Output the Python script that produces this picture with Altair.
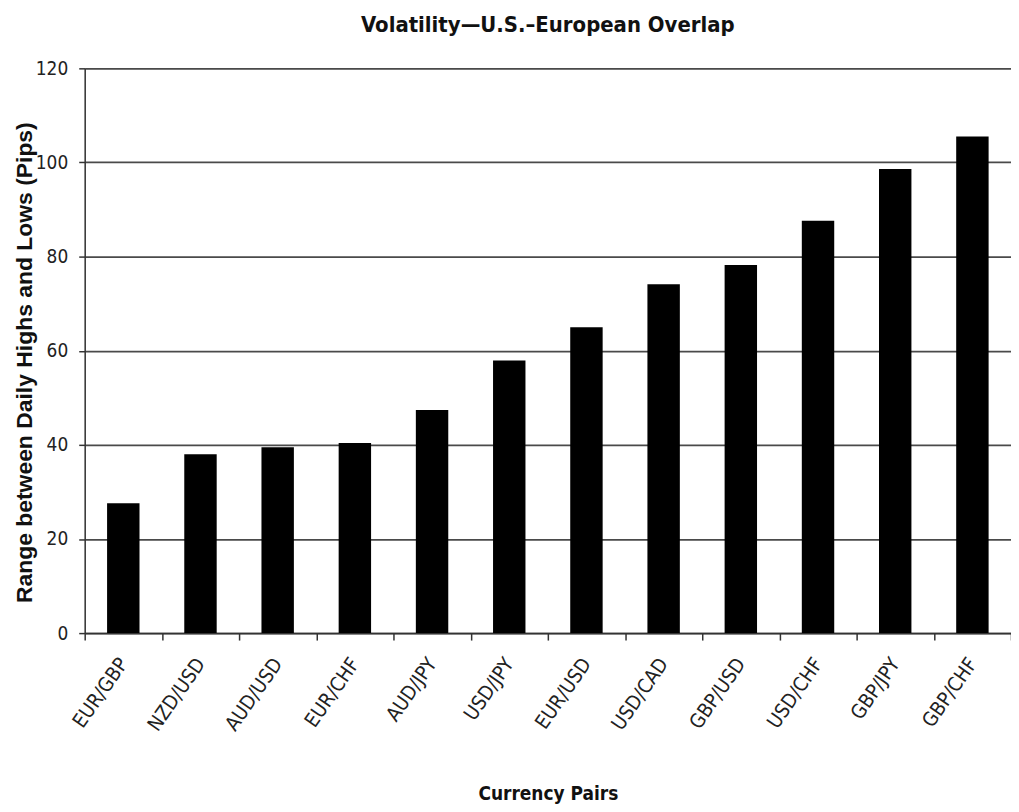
import altair as alt
import pandas as pd

pairs = ["EUR/GBP", "NZD/USD", "AUD/USD", "EUR/CHF", "AUD/JPY", "USD/JPY",
         "EUR/USD", "USD/CAD", "GBP/USD", "USD/CHF", "GBP/JPY", "GBP/CHF"]
ranges = [27.6, 38.0, 39.5, 40.4, 47.4, 57.9, 65.0, 74.1, 78.2, 87.6, 98.6, 105.5]
y_ticks = [0, 20, 40, 60, 80, 100, 120]

df = pd.DataFrame({"pair": pairs, "range": ranges})

NARROW = "DejaVu Sans Condensed, Liberation Sans Narrow, sans-serif"

W, H = 930, 567

chart = alt.Chart(df).mark_bar(color="black", width=alt.RelativeBandSize(0.42)).encode(
    x=alt.X("pair:N", sort=pairs,
            scale=alt.Scale(paddingInner=0, paddingOuter=0),
            axis=alt.Axis(title="Currency Pairs", labelAngle=305, labelAlign="right",
                          labelBaseline="middle", labelFont=NARROW, labelFontSize=20,
                          labelColor="#222", labelPadding=20,
                          tickBand="extent", tickSize=7, tickColor="#333", tickWidth=1.5,
                          domainColor="#333", domainWidth=1.5,
                          titleFont=NARROW, titleFontSize=19, titleFontWeight="bold",
                          titleColor="#111", titleY=161, titleBaseline="middle",
                          grid=False)),
    y=alt.Y("range:Q", scale=alt.Scale(domain=[0, 120], nice=False),
            axis=alt.Axis(title="Range between Daily Highs and Lows (Pips)", values=y_ticks,
                          labelFont=NARROW, labelFontSize=19, labelColor="#222", labelPadding=11,
                          tickSize=6, tickColor="#333", tickWidth=1.5,
                          domainColor="#333", domainWidth=1.5,
                          gridColor="#4a4a4a", gridWidth=1.8,
                          titleFont="Liberation Sans, Arial, sans-serif", titleFontSize=23,
                          titleFontWeight="bold", titleColor="#111",
                          titleX=-60, titleY=295, titleAngle=270, titleBaseline="middle",
                          titleAlign="center")),
).properties(
    width=W, height=H,
    title=alt.TitleParams("Volatility\u2014U.S.\u2013European Overlap", font=NARROW,
                          fontSize=22, fontWeight="bold", color="#111", offset=22,
                          anchor="middle"),
    autosize=alt.AutoSizeParams(type="none"),
    padding={"left": 77, "top": 59, "right": 0, "bottom": 170},
).configure_view(stroke=None).configure(background="white")

chart.save("out.html", embed_options={"renderer": "svg", "actions": False})
